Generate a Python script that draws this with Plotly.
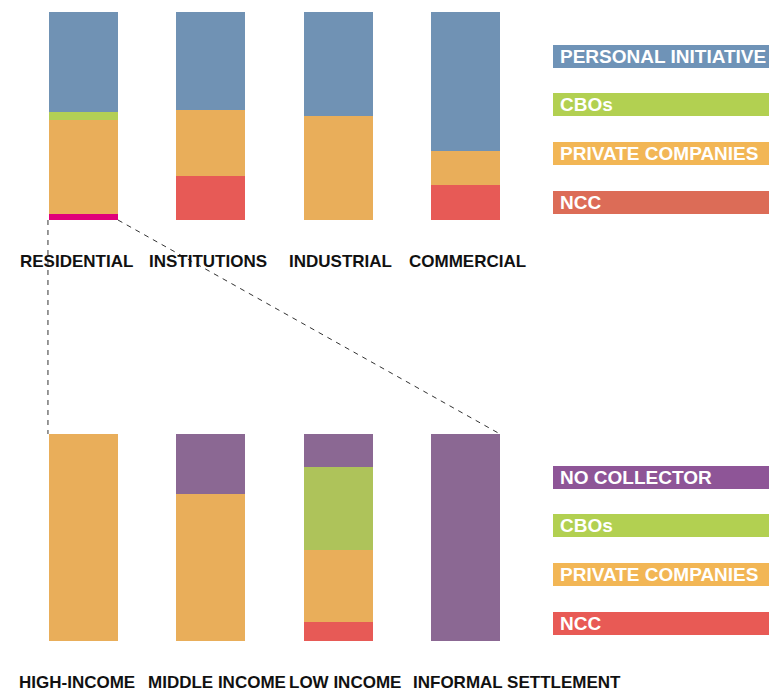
import plotly.graph_objects as go

# ---- data (percent of households per collector) ----
sectors = ["RESIDENTIAL", "INSTITUTIONS", "INDUSTRIAL", "COMMERCIAL"]
sector_ncc = [3, 21, 0, 17]
sector_private = [45, 32, 50, 16]
sector_cbos = [4, 0, 0, 0]
sector_personal = [48, 47, 50, 67]

income_groups = ["HIGH-INCOME", "MIDDLE INCOME", "LOW INCOME", "INFORMAL SETTLEMENT"]
income_ncc = [0, 0, 9, 0]
income_private = [100, 71, 35, 0]
income_cbos = [0, 0, 40, 0]
income_none = [0, 29, 16, 100]

top_legend = ["PERSONAL INITIATIVE", "CBOs", "PRIVATE COMPANIES", "NCC"]
bottom_legend = ["NO COLLECTOR", "CBOs", "PRIVATE COMPANIES", "NCC"]

# ---- page geometry ----
W, H = 769, 691
FONT = "Liberation Sans, Arial, sans-serif"
X_DOM = [19.8 / W, 529.2 / W]
TOP_DOM = [(H - 220) / H, (H - 12) / H]
BOT_DOM = [(H - 641) / H, (H - 434) / H]
BARGAP = 0.458


def px_y(p):
    return (H - p) / H


def bar_edge(i, side):
    """paper x of a bar edge (side = -1 left, +1 right)"""
    step = (X_DOM[1] - X_DOM[0]) / 4
    return X_DOM[0] + (i + 0.5) * step + side * (1 - BARGAP) * step / 2


BLUE, GREEN, ORANGE, RED = "#7092b4", "#b3cf55", "#e9ae5a", "#e75a56"
PINK, PURPLE, GREEN2 = "#e0007a", "#8b6893", "#aec35a"

fig = go.Figure()

# top chart: waste generators
fig.add_bar(x=sectors, y=sector_ncc, marker_color=[PINK, RED, RED, RED], name="NCC",
            xaxis="x", yaxis="y")
fig.add_bar(x=sectors, y=sector_private, marker_color=ORANGE, name="PRIVATE COMPANIES",
            xaxis="x", yaxis="y")
fig.add_bar(x=sectors, y=sector_cbos, marker_color=GREEN, name="CBOs",
            xaxis="x", yaxis="y")
fig.add_bar(x=sectors, y=sector_personal, marker_color=BLUE, name="PERSONAL INITIATIVE",
            xaxis="x", yaxis="y")

# bottom chart: residential breakdown by income
fig.add_bar(x=income_groups, y=income_ncc, marker_color=RED, name="NCC",
            xaxis="x2", yaxis="y2")
fig.add_bar(x=income_groups, y=income_private, marker_color=ORANGE, name="PRIVATE COMPANIES",
            xaxis="x2", yaxis="y2")
fig.add_bar(x=income_groups, y=income_cbos, marker_color=GREEN2, name="CBOs",
            xaxis="x2", yaxis="y2")
fig.add_bar(x=income_groups, y=income_none, marker_color=PURPLE, name="NO COLLECTOR",
            xaxis="x2", yaxis="y2")

fig.update_traces(marker_line_width=0, hoverinfo="x+y+name")

hidden = dict(visible=False, showgrid=False, zeroline=False, fixedrange=True)
fig.update_layout(
    width=W, height=H,
    margin=dict(l=0, r=0, t=0, b=0),
    paper_bgcolor="white", plot_bgcolor="white",
    barmode="stack", bargap=BARGAP, showlegend=False,
    xaxis=dict(domain=X_DOM, anchor="y", type="category", range=[-0.5, 3.5], **hidden),
    yaxis=dict(domain=TOP_DOM, anchor="x", range=[0, 100], **hidden),
    xaxis2=dict(domain=X_DOM, anchor="y2", type="category", range=[-0.5, 3.5], **hidden),
    yaxis2=dict(domain=BOT_DOM, anchor="x2", range=[0, 100], **hidden),
)

# category labels under each chart
label_font = dict(family=FONT, size=17, color="#111111")
top_shift = [-7, -3, 2, 1.5]
bot_shift = [-6, 6.5, 7, 51]
for name, dx in zip(sectors, top_shift):
    fig.add_annotation(x=name, xref="x", y=px_y(261), yref="paper", text="<b>%s</b>" % name,
                       showarrow=False, xanchor="center", yanchor="middle", xshift=dx,
                       font=label_font)
for name, dx in zip(income_groups, bot_shift):
    fig.add_annotation(x=name, xref="x2", y=px_y(682), yref="paper", text="<b>%s</b>" % name,
                       showarrow=False, xanchor="center", yanchor="middle", xshift=dx,
                       font=label_font)

# colour-key boxes on the right
top_key_colors = ["#6f93b7", "#b2d051", "#f2b655", "#dc6c57"]
bot_key_colors = ["#8e5597", "#b2d051", "#f2b655", "#e85a55"]
top_key_rows = [45, 93, 142, 191]
bot_key_rows = [466, 514, 563, 612]
for names, colors, rows in ((top_legend, top_key_colors, top_key_rows),
                            (bottom_legend, bot_key_colors, bot_key_rows)):
    for name, col, y0 in zip(names, colors, rows):
        fig.add_shape(type="rect", xref="paper", yref="paper",
                      x0=553 / W, x1=1.05, y0=px_y(y0 + 23), y1=px_y(y0),
                      fillcolor=col, line_width=0, layer="below")
        fig.add_annotation(x=558 / W, y=px_y(y0 + 11.5), xref="paper", yref="paper",
                           text="<b>%s</b>" % name, showarrow=False,
                           xanchor="left", yanchor="middle",
                           font=dict(family=FONT, size=19, color="white"))

# dashed zoom lines linking the residential bar to the breakdown
dash = dict(color="#333333", width=1, dash="5px,5px")
fig.add_shape(type="line", xref="paper", yref="paper",
              x0=bar_edge(0, -1) - 1 / W, y0=TOP_DOM[0],
              x1=bar_edge(0, -1) - 1 / W, y1=BOT_DOM[1], line=dash)
fig.add_shape(type="line", xref="paper", yref="paper",
              x0=bar_edge(0, 1), y0=TOP_DOM[0],
              x1=bar_edge(3, 1), y1=BOT_DOM[1], line=dash)

fig.write_html("out.html")
